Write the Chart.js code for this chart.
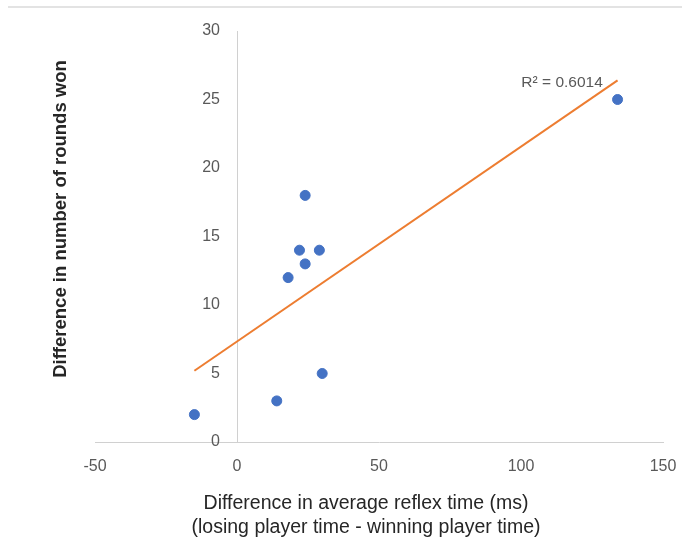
<!DOCTYPE html>
<html>
<head>
<meta charset="utf-8">
<script src="https://cdn.jsdelivr.net/npm/chart.js@4.4.1/dist/chart.umd.min.js"></script>
<style>
  html, body { margin: 0; padding: 0; background: #ffffff; }
  #wrap { width: 682px; height: 544px; position: relative; }
</style>
</head>
<body>
<div id="wrap"><canvas id="c" width="682" height="544"></canvas></div>
<script>
// ---- data ----
const reflexDiff = [-15, 14, 30, 18, 22, 24, 24, 29, 134];
const roundsDiff = [2, 3, 5, 12, 14, 13, 18, 14, 25];
const trendX = [-15, 134];
const trendY = [5.2, 26.4];
const rSquaredLabel = 'R\u00B2 = 0.6014';
const xTicks = [-50, 0, 50, 100, 150];
const yTicks = [0, 5, 10, 15, 20, 25, 30];
const xTitleLines = ['Difference in average reflex time (ms)', '(losing player time - winning player time)'];
const yTitle = 'Difference in number of rounds won';

const FONT = "'Liberation Sans', Arial, sans-serif";

const points = reflexDiff.map((x, i) => ({ x: x, y: roundsDiff[i] }));
const trend = trendX.map((x, i) => ({ x: x, y: trendY[i] }));

const decorPlugin = {
  id: 'decor',
  beforeDraw(chart) {
    const ctx = chart.ctx;
    ctx.save();
    ctx.fillStyle = '#ffffff';
    ctx.fillRect(0, 0, chart.width, chart.height);
    ctx.strokeStyle = '#e3e3e3';
    ctx.lineWidth = 2;
    ctx.beginPath();
    ctx.moveTo(8, 7);
    ctx.lineTo(chart.width, 7);
    ctx.stroke();
    ctx.restore();
  },
  afterDraw(chart) {
    const ctx = chart.ctx;
    const xs = chart.scales.x, ys = chart.scales.y;
    ctx.save();
    // y tick labels, left of the y axis line at x = 0
    ctx.fillStyle = '#595959';
    ctx.font = '16px ' + FONT;
    ctx.textAlign = 'right';
    ctx.textBaseline = 'middle';
    const axisX = xs.getPixelForValue(0);
    yTicks.forEach(v => ctx.fillText(String(v), axisX - 17, ys.getPixelForValue(v)));
    // R^2 label
    ctx.font = '15.5px ' + FONT;
    ctx.fillText(rSquaredLabel, xs.getPixelForValue(128.8), ys.getPixelForValue(26.25));
    // x title
    ctx.fillStyle = '#262626';
    ctx.font = '19.5px ' + FONT;
    ctx.textAlign = 'center';
    ctx.textBaseline = 'alphabetic';
    ctx.fillText(xTitleLines[0], 366, 509);
    ctx.fillText(xTitleLines[1], 366, 533);
    // y title
    ctx.translate(61, 219);
    ctx.rotate(-Math.PI / 2);
    ctx.textBaseline = 'middle';
    ctx.font = 'bold 18.5px ' + FONT;
    ctx.fillText(yTitle, 0, 0);
    ctx.restore();
  }
};

new Chart(document.getElementById('c'), {
  type: 'scatter',
  data: {
    datasets: [
      {
        type: 'line',
        label: 'Trend',
        data: trend,
        borderColor: '#ED7D31',
        borderWidth: 2,
        pointRadius: 0,
        fill: false,
        order: 2
      },
      {
        label: 'Data',
        data: points,
        backgroundColor: '#4472C4',
        borderColor: '#4472C4',
        pointRadius: 5,
        pointHoverRadius: 5,
        order: 1
      }
    ]
  },
  options: {
    responsive: false,
    animation: false,
    devicePixelRatio: 1,
    layout: { padding: { left: 95, right: 19, top: 31, bottom: 0 } },
    plugins: { legend: { display: false }, tooltip: { enabled: false } },
    scales: {
      x: {
        type: 'linear',
        position: 'bottom',
        min: -50, max: 150,
        afterBuildTicks(scale) { scale.ticks = xTicks.map(v => ({ value: v })); },
        afterFit(scale) { scale.height = 102; scale.paddingLeft = 0; scale.paddingRight = 0; },
        grid: { display: false, drawTicks: false },
        border: { display: true, color: '#d0d0d0', width: 1 },
        ticks: { color: '#595959', font: { family: FONT, size: 16 }, padding: 15, maxRotation: 0 }
      },
      y: {
        type: 'linear',
        position: { x: 0 },
        min: 0, max: 30,
        afterBuildTicks(scale) { scale.ticks = yTicks.map(v => ({ value: v })); },
        grid: { display: false, drawTicks: false },
        border: { display: true, color: '#d0d0d0', width: 1 },
        ticks: { display: false }
      }
    }
  },
  plugins: [decorPlugin]
});
</script>
</body>
</html>
